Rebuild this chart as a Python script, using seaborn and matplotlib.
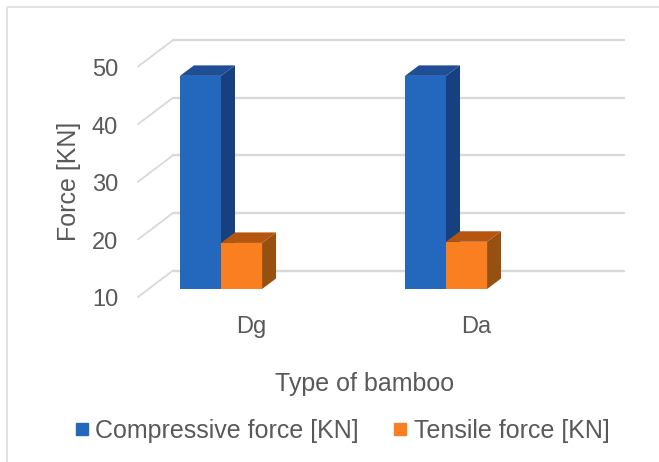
import matplotlib
matplotlib.use("Agg")
import matplotlib.pyplot as plt
from matplotlib.patches import Polygon
from matplotlib.lines import Line2D
import pandas as pd
import seaborn as sns

bamboo_types = ["Dg", "Da"]
compressive_force = [47.0, 47.0]
tensile_force = [18.0, 18.2]
series_names = ["Compressive force [KN]", "Tensile force [KN]"]
y_tick_values = [10, 20, 30, 40, 50]

W, H = 659, 462
TEXT = "#595959"
GRID = "#D9D9D9"
FRONT = ["#2468BE", "#F97F20"]
TOP = ["#1F4E96", "#B45610"]
SIDE = ["#174080", "#96500F"]

sns.set_theme(style="white")
plt.rcParams["font.family"] = ["Liberation Sans", "DejaVu Sans"]

frame = pd.DataFrame({
    "type": bamboo_types * 2,
    "series": [series_names[0]] * 2 + [series_names[1]] * 2,
    "force": compressive_force + tensile_force,
})

fig = plt.figure(figsize=(W / 100, H / 100), dpi=100)

# Plot area in pixels; one force unit is 5.76 px, one category 225 px
left_px, right_px, top_px, bottom_px = 118, 640, 20, 310
ax = fig.add_axes([left_px / W, 1 - bottom_px / H, (right_px - left_px) / W, (bottom_px - top_px) / H])
unit = 5.76
ax.set_ylim(10 - (bottom_px - 289) / unit, 10 + (289 - top_px) / unit)

sns.barplot(data=frame, x="type", y="force", hue="series", hue_order=series_names,
            palette=FRONT, width=0.365, gap=0, saturation=1, errorbar=None,
            ax=ax, zorder=3, linewidth=0, legend=False)
ax.set_xlim((left_px - 221) / 225, (right_px - 221) / 225)

# Depth offsets of the pseudo-3D projection
dx_data = 14 / 225
dy_data = 10.5 / unit

# Back wall gridlines with their slanted side-wall segments
wall_dx = 35 / 225
wall_dy = 18.5 / unit
x_back_left = (173 - 221) / 225
x_back_right = (624 - 221) / 225
for v in y_tick_values:
    ax.plot([x_back_left, x_back_right], [v + wall_dy, v + wall_dy], color=GRID, lw=1.7, zorder=1)
    ax.plot([x_back_left - wall_dx, x_back_left], [v + wall_dy - 26.5 / unit, v + wall_dy],
            color=GRID, lw=1.3, zorder=1)

# Start the columns at the axis floor and add their top and side faces
for i, container in enumerate(ax.containers):
    for patch in container:
        top_value = patch.get_height()
        patch.set_y(10)
        patch.set_height(top_value - 10)
        x0 = patch.get_x()
        x1 = x0 + patch.get_width()
        ax.add_patch(Polygon([(x0, top_value), (x1, top_value),
                              (x1 + dx_data, top_value + dy_data), (x0 + dx_data, top_value + dy_data)],
                             closed=True, fc=TOP[i], ec="none", zorder=3 + i))
        ax.add_patch(Polygon([(x1, 10), (x1 + dx_data, 10 + dy_data),
                              (x1 + dx_data, top_value + dy_data), (x1, top_value)],
                             closed=True, fc=SIDE[i], ec="none", zorder=2.5 + i))
        patch.set_zorder(3.2 + i)

for spine in ax.spines.values():
    spine.set_visible(False)
ax.set_yticks([v - 1.55 for v in y_tick_values], labels=[str(v) for v in y_tick_values])
ax.set_xticks([(251.5 - 221) / 225, (476 - 221) / 225], labels=bamboo_types)
ax.tick_params(axis="y", length=0, labelsize=17, labelcolor=TEXT, pad=0)
ax.tick_params(axis="x", length=0, labelsize=17, labelcolor=TEXT, pad=4)
ax.set_xlabel("")
ax.set_ylabel("")

fig.text(69 / W, 1 - 181.5 / H, "Force [KN]", rotation=90, ha="center", va="center", color=TEXT, fontsize=18)
fig.text(365 / W, 1 - 384.5 / H, "Type of bamboo", ha="center", va="center", color=TEXT, fontsize=18)

handles = [Line2D([], [], linestyle="none", marker="s", markersize=9, color=c) for c in FRONT]
fig.legend(handles, series_names, loc="center", bbox_to_anchor=(342 / W, 1 - 431 / H), ncol=2, frameon=False,
           fontsize=18, labelcolor=TEXT, handlelength=0.6, handletextpad=0.25, columnspacing=1.36,
           borderpad=0, borderaxespad=0)

# Outer chart frame, open at the right and bottom edges
fig.add_artist(Line2D([7 / W, 7 / W, 1], [0, 1 - 7 / H, 1 - 7 / H], color="#E2E2E2", lw=1.4))

fig.savefig("out.png", dpi=100)
